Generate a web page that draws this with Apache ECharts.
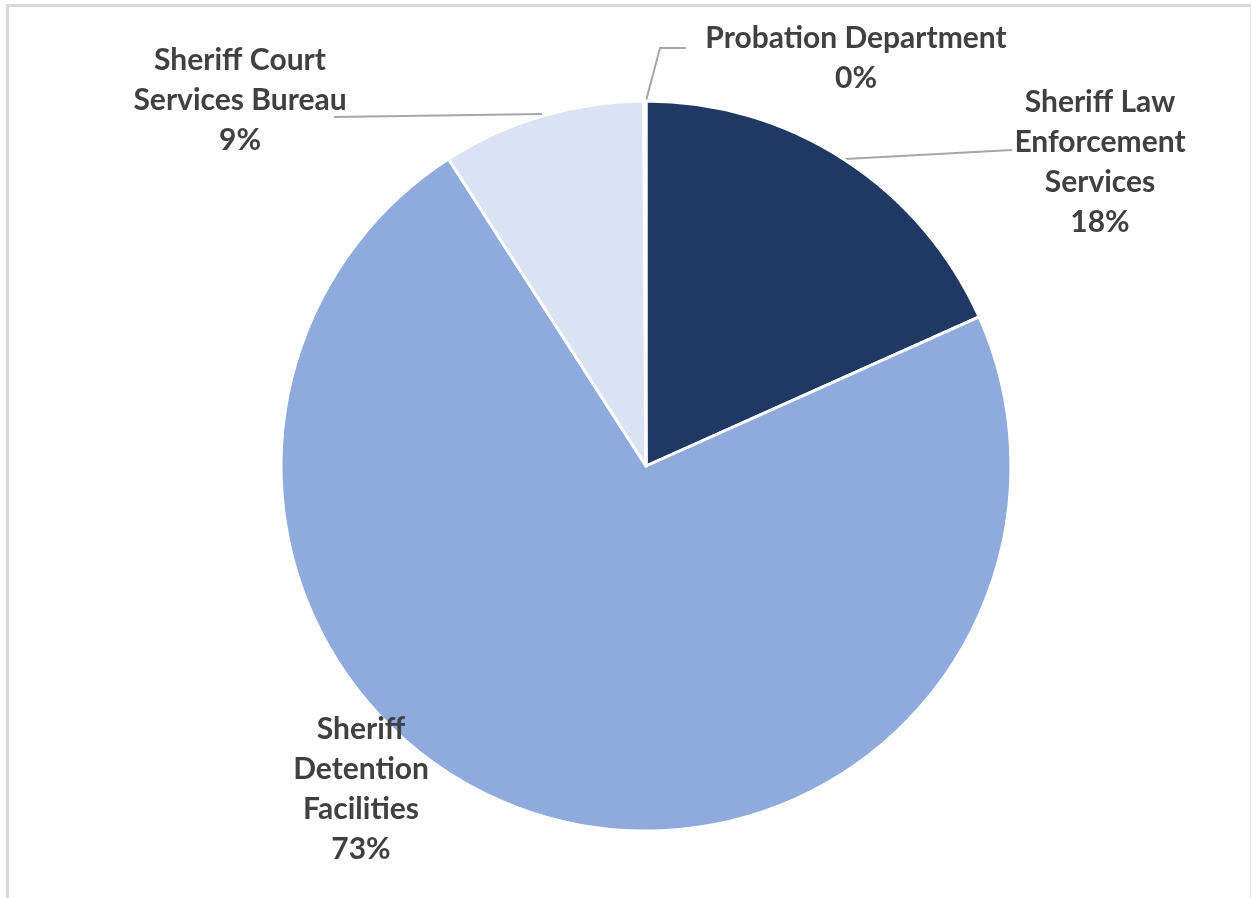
<!DOCTYPE html>
<html>
<head>
<meta charset="utf-8">
<script src="https://cdn.jsdelivr.net/npm/echarts@6/dist/echarts.min.js"></script>
<style>
  html, body { margin: 0; padding: 0; background: #fff; }
  #chart { position: absolute; left: 0; top: 0; width: 1251px; height: 898px; }
  #frame {
    position: absolute; left: 6px; top: 4px; width: 1241px; height: 894px;
    border-left: 3px solid #d9d9d9; border-top: 3px solid #d9d9d9; border-right: 1px solid #e3e3e3;
    pointer-events: none;
  }
</style>
</head>
<body>
<div id="chart"></div>
<div id="frame"></div>
<script>
// slices, clockwise from 12 o'clock
let categories = ['Sheriff Law Enforcement Services', 'Sheriff Detention Facilities', 'Sheriff Court Services Bureau', 'Probation Department'];
let labelText = ['Sheriff Law\nEnforcement\nServices', 'Sheriff\nDetention\nFacilities', 'Sheriff Court\nServices Bureau', 'Probation Department'];
let shares = [18.3, 72.6, 9.0, 0.1];
let colors = ['#1f3864', '#8faadc', '#dae3f3', '#dae3f3'];

// where each label sits and its leader line
let labelPos = [
    { x: 1100, y: 162, line: [[845, 159], [1012, 150]] },
    { x: 361, y: 789, line: null },
    { x: 240, y: 100, line: [[542, 114], [334, 117]] },
    { x: 856, y: 58, line: [[646, 101], [660, 48], [686, 48]] }
];

let myChart = echarts.init(document.getElementById('chart'));

let option = {
    animation: false,
    series: [{
        type: 'pie',
        center: [646, 466],
        radius: 365,
        startAngle: 90,
        clockwise: true,
        avoidLabelOverlap: false,
        itemStyle: {
            borderColor: '#ffffff',
            borderWidth: 3
        },
        label: {
            show: true,
            position: 'outside',
            fontFamily: 'Lato',
            fontWeight: 'bold',
            fontSize: 30,
            lineHeight: 40,
            color: '#404040',
            align: 'center',
            formatter: (p) => labelText[p.dataIndex] + '\n' + Math.round(p.percent) + '%'
        },
        labelLine: {
            show: true,
            lineStyle: { color: '#a6a6a6', width: 2 }
        },
        labelLayout: (params) => {
            let pos = labelPos[params.dataIndex];
            let out = { x: pos.x, y: pos.y, align: 'center', verticalAlign: 'middle' };
            if (pos.line) out.labelLinePoints = pos.line;
            return out;
        },
        data: categories.map((name, i) => ({
            name: name,
            value: shares[i],
            itemStyle: { color: colors[i] },
            labelLine: { show: !!labelPos[i].line }
        }))
    }]
};

myChart.setOption(option);
window.addEventListener('resize', myChart.resize);
</script>
</body>
</html>
